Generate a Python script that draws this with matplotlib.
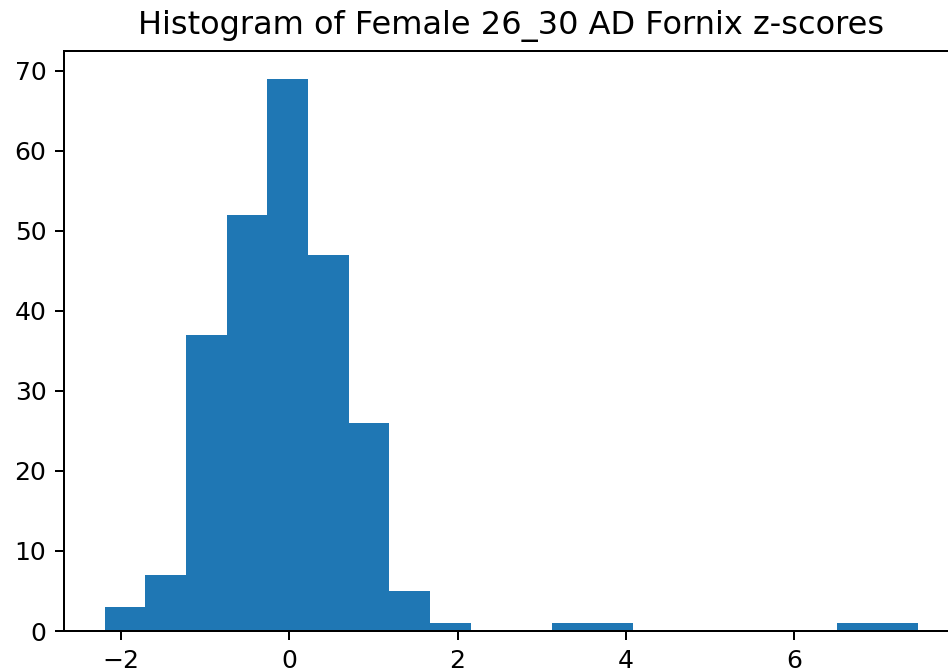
import numpy as np
import matplotlib
matplotlib.use("Agg")
import matplotlib.pyplot as plt

# histogram counts (20 bins)
counts = [3, 7, 37, 52, 69, 47, 26, 5, 1, 0, 0, 1, 1, 0, 0, 0, 0, 0, 1, 1]
z_min = -2.19
z_max = 7.47

edges = np.linspace(z_min, z_max, len(counts) + 1)
centers = (edges[:-1] + edges[1:]) / 2

fig = plt.figure(figsize=(948 / 180, 672 / 180), dpi=180)
ax = fig.add_axes([0.0675, 0.061, 0.944, 0.863])
ax.hist(centers, bins=edges, weights=counts, color='#1f77b4')
ax.set_title("Histogram of Female 26_30 AD Fornix z-scores", fontsize=12.8, pad=7)

fig.savefig("out.png", dpi=180)
